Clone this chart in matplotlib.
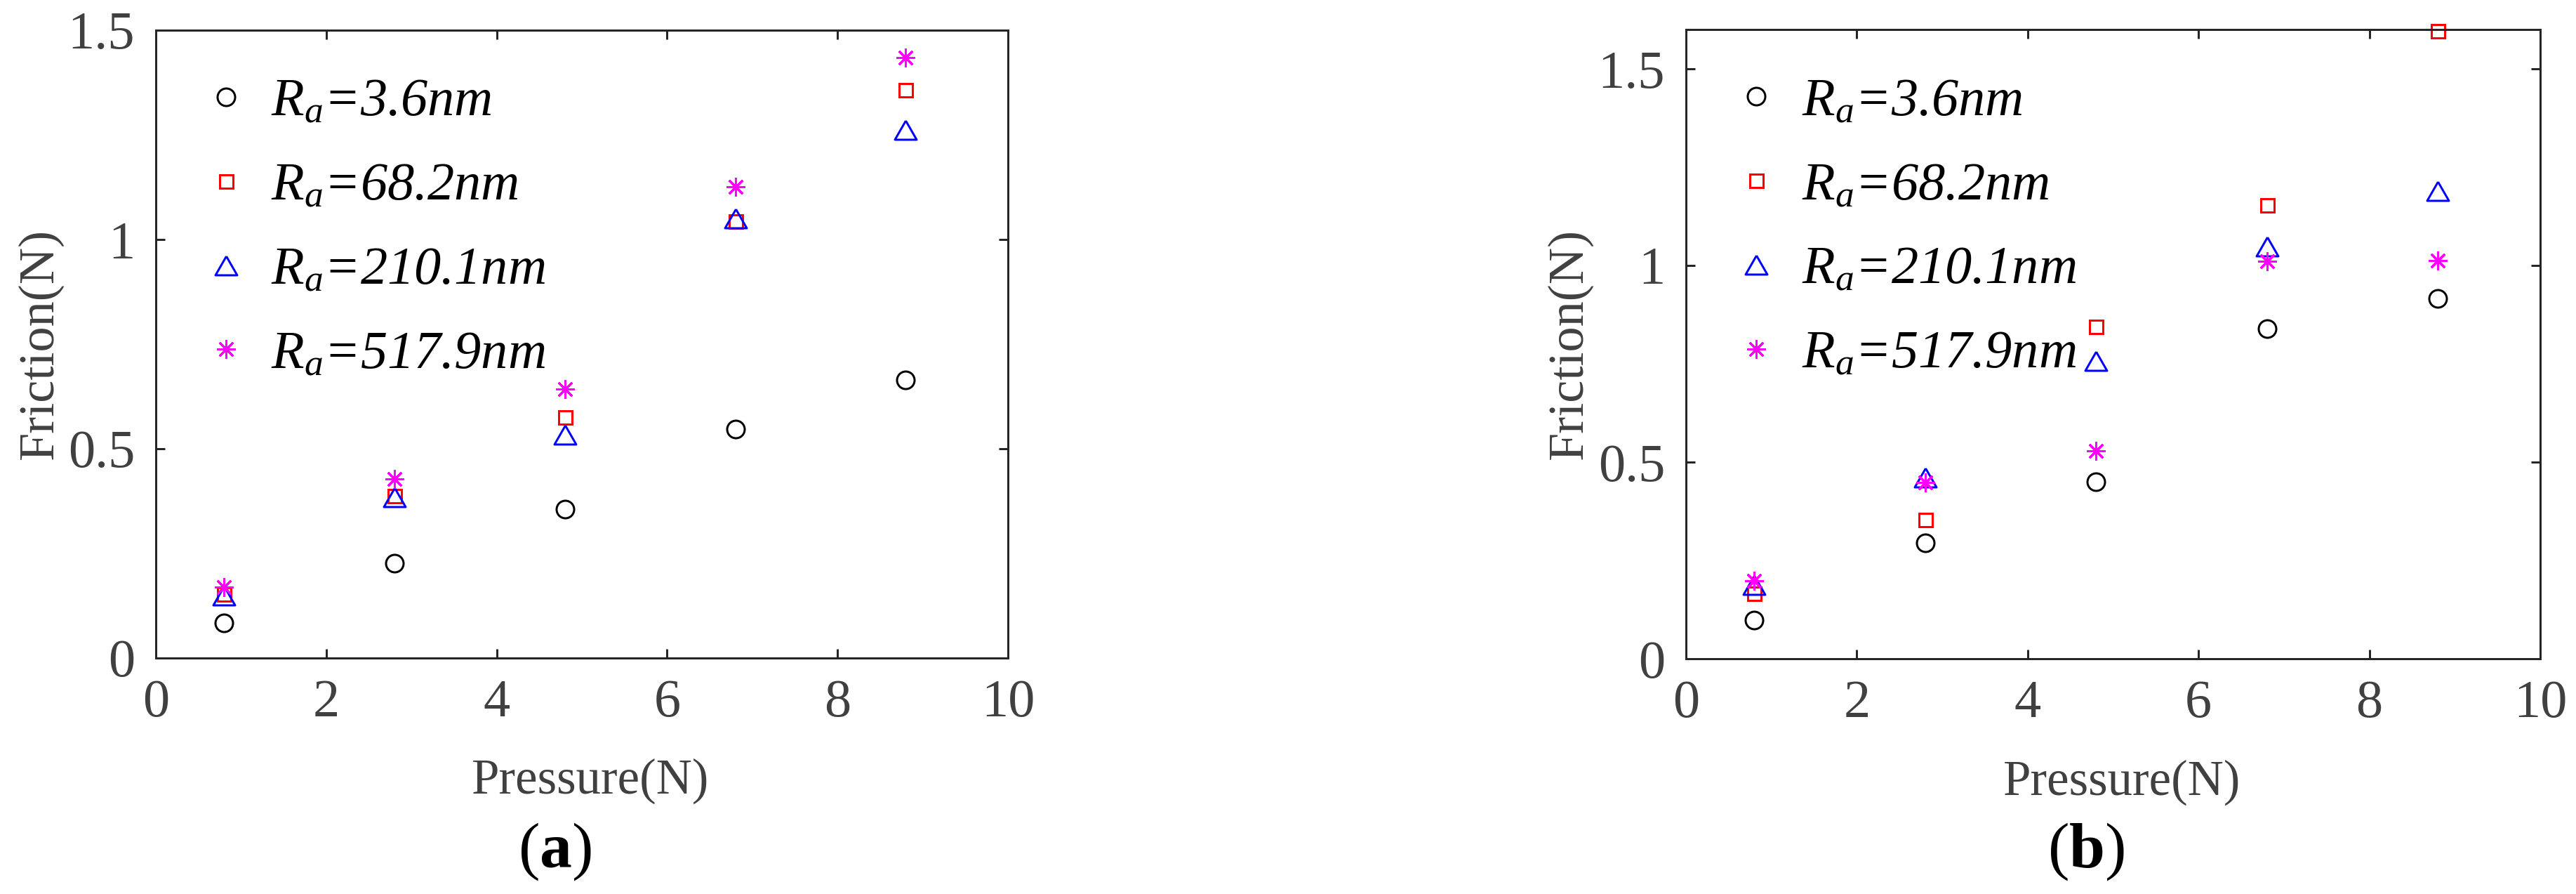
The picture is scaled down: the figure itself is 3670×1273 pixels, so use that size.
import matplotlib
matplotlib.use("Agg")
import matplotlib.pyplot as plt

plt.rcParams['font.family'] = ['Liberation Serif', 'DejaVu Serif']
plt.rcParams['mathtext.fontset'] = 'custom'
plt.rcParams['mathtext.rm'] = 'Liberation Serif'
plt.rcParams['mathtext.it'] = 'Liberation Serif:italic'
plt.rcParams['mathtext.bf'] = 'Liberation Serif:bold'

# ---------------- data ----------------
pressure = [0.8, 2.8, 4.8, 6.8, 8.8]
labels = [r'$R_a$=3.6nm', r'$R_a$=68.2nm', r'$R_a$=210.1nm', r'$R_a$=517.9nm']

# panel (a)
fa_36 = [0.084, 0.226, 0.356, 0.547, 0.664]
fa_682 = [0.152, 0.388, 0.575, 1.043, 1.357]
fa_2101 = [0.150, 0.384, 0.533, 1.050, 1.262]
fa_5179 = [0.169, 0.428, 0.642, 1.126, 1.435]

# panel (b)
fb_36 = [0.098, 0.294, 0.450, 0.840, 0.916]
fb_682 = [0.166, 0.354, 0.845, 1.154, 1.597]
fb_2101 = [0.188, 0.460, 0.758, 1.049, 1.189]
fb_5179 = [0.198, 0.448, 0.529, 1.011, 1.013]

xticks = [0, 2, 4, 6, 8, 10]
yticks_a = [0, 0.5, 1, 1.5]
yticks_b = [0, 0.5, 1, 1.5]
captions = ['a', 'b']

# ---------------- style ----------------
W, H = 3670, 1273
DPI = 100
PX = 72.0 / DPI  # points per pixel
axcol = '#262626'
txtcol = '#404040'
lw = 3 * PX

tri = [(0, 0.87), (-1, -0.87), (1, -0.87), (0, 0.87)]
styles = [
    dict(marker='o', color='black', ms=25 * PX),
    dict(marker='s', color='#ff0000', ms=19 * PX),
    dict(marker=tri, color='#0000ff', ms=31 * PX),
    dict(marker=(8, 2, 0), color='#ff00ff', ms=27 * PX),
]

fig = plt.figure(figsize=(W / DPI, H / DPI), dpi=DPI)

def make_axes(x0, x1, y0, y1):
    return fig.add_axes([x0 / W, 1 - y1 / H, (x1 - x0) / W, (y1 - y0) / H])

ax_a = make_axes(222, 1436, 43, 937)
ax_b = make_axes(2402, 3619, 42, 938)

panels = [
    (ax_a, [fa_36, fa_682, fa_2101, fa_5179], (0, 1.5), yticks_a),
    (ax_b, [fb_36, fb_682, fb_2101, fb_5179], (0, 1.6), yticks_b),
]

for ax, series, ylim, yticks in panels:
    for ys, st, lab in zip(series, styles, labels):
        ax.plot(pressure, ys, linestyle='none', marker=st['marker'],
                markersize=st['ms'], markerfacecolor='none',
                markeredgecolor=st['color'], markeredgewidth=lw,
                label=lab, clip_on=False)
    ax.set_xlim(0, 10)
    ax.set_ylim(*ylim)
    ax.set_xticks(xticks)
    ax.set_xticklabels([str(t) for t in xticks])
    ax.set_yticks(yticks)
    ax.set_yticklabels(['%g' % t for t in yticks])
    for s in ax.spines.values():
        s.set_linewidth(lw)
        s.set_color(axcol)
    ax.tick_params(direction='in', length=13 * PX, width=lw, color=axcol,
                   labelsize=55, labelcolor=txtcol, top=True, right=True)
    ax.tick_params(axis='y', pad=30 * PX)
    ax.tick_params(axis='x', pad=30 * PX)
    ax.set_xlabel('Pressure(N)', fontsize=51, color=txtcol)
    ax.xaxis.label.set_va('baseline')
    ax.xaxis.set_label_coords(0.51, -(1130 - 937) / 894)
    ax.set_ylabel('Friction(N)', fontsize=52, color=txtcol)
    ax.yaxis.label.set_va('center')
    ax.yaxis.set_label_coords(-(222 - 57) / 1214, 0.5)
    leg = ax.legend(loc='upper left', bbox_to_anchor=(69 / 1214, 1 - 68 / 894),
                    frameon=False, numpoints=1, handlelength=0.8,
                    handletextpad=0.45, labelspacing=0.66, borderpad=0,
                    borderaxespad=0,
                    prop=dict(family='Liberation Serif', style='italic', size=55))

for cap, xc in zip(captions, [790, 2972]):
    fig.text(xc / W, (H - 1235) / H, r'($\mathbf{%s}$)' % cap, fontsize=66,
             ha='center', va='baseline', color='black')

fig.savefig('out.png', dpi=DPI, facecolor='white')
